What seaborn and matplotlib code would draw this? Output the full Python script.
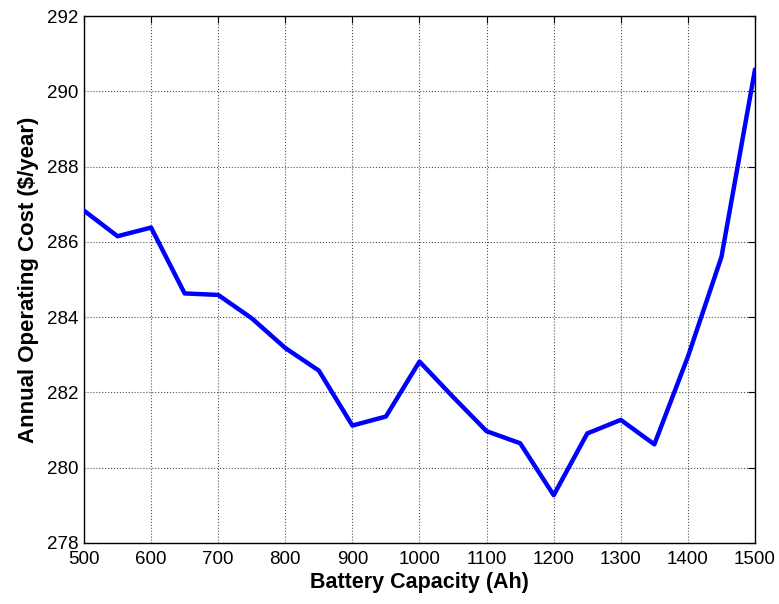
import matplotlib
matplotlib.use("Agg")
import matplotlib.pyplot as plt
import seaborn as sns
import pandas as pd

# Battery capacity sweep and resulting annual operating cost
capacity_ah = [500, 550, 600, 650, 700, 750, 800, 850, 900, 950, 1000,
               1050, 1100, 1150, 1200, 1250, 1300, 1350, 1400, 1450, 1500]
annual_cost = [286.83, 286.15, 286.38, 284.63, 284.59, 283.97, 283.18, 282.58,
               281.12, 281.36, 282.82, 281.88, 280.97, 280.65, 279.27, 280.91,
               281.27, 280.62, 282.95, 285.60, 290.58]
x_ticks = list(range(500, 1501, 100))
y_ticks = list(range(278, 293, 2))

sns.set_style("white")
plt.rcParams["font.family"] = ["Liberation Sans", "DejaVu Sans"]
plt.rcParams["text.color"] = "black"
plt.rcParams["axes.labelcolor"] = "black"

df = pd.DataFrame({"capacity": capacity_ah, "cost": annual_cost})

fig = plt.figure(figsize=(7.79, 6.04), dpi=100)
ax = fig.add_axes([0.1078, 0.101, 0.8614, 0.8725])

sns.lineplot(data=df, x="capacity", y="cost", ax=ax, color="#0000FF",
             linewidth=3.2, zorder=3)

ax.set_xlim(500, 1500)
ax.set_ylim(278, 292)
ax.set_xticks(x_ticks)
ax.set_yticks(y_ticks)
ax.tick_params(direction="in", length=5, width=0.8, top=True, right=True,
               labelsize=13.5, colors="black")
ax.tick_params(axis="x", pad=6)
ax.tick_params(axis="y", pad=4)
ax.grid(True, linestyle=":", color="#555555", linewidth=0.8)
for s in ax.spines.values():
    s.set_color("black")
    s.set_linewidth(1.0)

ax.set_xlabel("Battery Capacity (Ah)", fontsize=15.5, fontweight="bold",
              labelpad=3, color="black")
ax.set_ylabel("Annual Operating Cost ($/year)", fontsize=16, fontweight="bold",
              labelpad=6, color="black")

fig.savefig("out.png", dpi=100)
